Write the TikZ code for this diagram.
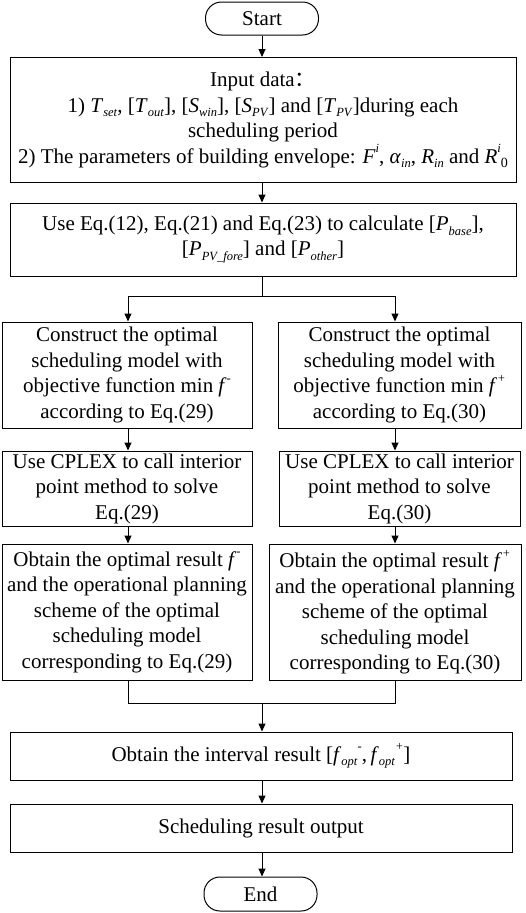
\documentclass[tikz,border=0pt]{standalone}
\usepackage{fontspec}
\setmainfont{Liberation Serif}
\newfontfamily\cjk{Noto Sans CJK SC}
\usetikzlibrary{arrows.meta}
\newcommand{\lowtxt}[1]{\raisebox{-0.22em}{\fontsize{12.5}{12.5}\selectfont\textit{#1}}}
\newcommand{\hightxt}[1]{\raisebox{0.5em}{\fontsize{12.5}{12.5}\selectfont\textit{#1}}}
\newcommand{\vv}[2]{\textit{#1}\lowtxt{#2}}
\begin{document}
\begin{tikzpicture}[x=1pt,y=-1pt,
  box/.style={draw,line width=1pt,align=center,inner sep=0pt,font=\fontsize{21}{25.5}\selectfont},
  term/.style={box,rounded corners=16pt},
  arr/.style={line width=1pt,-{Triangle[length=8pt,width=7pt]}},
  ln/.style={line width=1pt}]
\useasboundingbox (0,0) rectangle (526,913);
\node[term,minimum width=113pt,minimum height=33pt] (start) at (262,18.5) {Start};
\node[box,minimum width=506pt,minimum height=125pt] (input) at (263,120) {Input data{\cjk ：}\\
{1)} \vv{T}{set}, [\vv{T}{out}], [\vv{S}{win}], [\vv{S}{PV}] and [\vv{T}{PV}]during each\\
scheduling period\\
2) The parameters of building envelope: \textit{F}\hightxt{i}, \vv{α}{in}, \vv{R}{in} and \textit{R}\hightxt{i}\raisebox{-0.22em}{\fontsize{14}{14}\selectfont 0}};
\node[box,minimum width=506pt,minimum height=73pt] (use) at (263,239.5) {Use Eq.(12), Eq.(21) and Eq.(23) to calculate [\vv{P}{base}],\\
{[}\vv{P}{PV\_fore}] and [\vv{P}{other}]};
\node[box,minimum width=250pt,minimum height=106pt] (c1L) at (127,375) {Construct the optimal\\scheduling model with\\objective function min \textit{f}\hightxt{-}\\according to Eq.(29)};
\node[box,minimum width=243pt,minimum height=106pt] (c1R) at (399.5,375) {Construct the optimal\\scheduling model with\\objective function min \textit{f}\hightxt{+}\\according to Eq.(30)};
\node[box,minimum width=250pt,minimum height=75pt] (c2L) at (127,488.5) {Use CPLEX to call interior\\point method to solve\\Eq.(29)};
\node[box,minimum width=241pt,minimum height=75pt] (c2R) at (399.5,488.5) {Use CPLEX to call interior\\point method to solve\\Eq.(30)};
\node[box,minimum width=250pt,minimum height=136pt] (c3L) at (127,612) {Obtain the optimal result \textit{f}\hightxt{-}\\and the operational planning\\scheme of the optimal\\scheduling model\\corresponding to Eq.(29)};
\node[box,minimum width=252pt,minimum height=136pt] (c3R) at (395,612) {Obtain the optimal result \textit{f}\hightxt{+}\\and the operational planning\\scheme of the optimal\\scheduling model\\corresponding to Eq.(30)};
\node[box,minimum width=502pt,minimum height=48pt] (interval) at (261,756) {Obtain the interval result [\vv{f}{opt}\hightxt{-},\,\vv{f}{opt}\hightxt{+}]};
\node[box,minimum width=502pt,minimum height=48pt] (output) at (261,828) {Scheduling result output};
\node[term,minimum width=113pt,minimum height=34pt] (end) at (260.5,894) {End};
\coordinate (cx) at (262,0);
\coordinate (lx) at (128,0);
\coordinate (rx) at (395,0);
\coordinate (split) at (262,296);
\coordinate (merge) at (262,703);
\draw[arr] (start.south -| cx) -- (input.north -| cx);
\draw[arr] (input.south -| cx) -- (use.north -| cx);
\draw[ln] (use.south -| cx) -- (split);
\draw[ln] (split -| lx) -- (split -| rx);
\draw[arr] (split -| lx) -- (c1L.north -| lx);
\draw[arr] (split -| rx) -- (c1R.north -| rx);
\draw[arr] (c1L.south -| lx) -- (c2L.north -| lx);
\draw[arr] (c1R.south -| rx) -- (c2R.north -| rx);
\draw[arr] (c2L.south -| lx) -- (c3L.north -| lx);
\draw[arr] (c2R.south -| rx) -- (c3R.north -| rx);
\draw[ln] (c3L.south -| lx) |- (merge -| rx) -- (c3R.south -| rx);
\draw[arr] (merge) -- (interval.north -| merge);
\draw[arr] (interval.south -| cx) -- (output.north -| cx);
\draw[arr] (output.south -| cx) -- (end.north -| cx);
\end{tikzpicture}
\end{document}
